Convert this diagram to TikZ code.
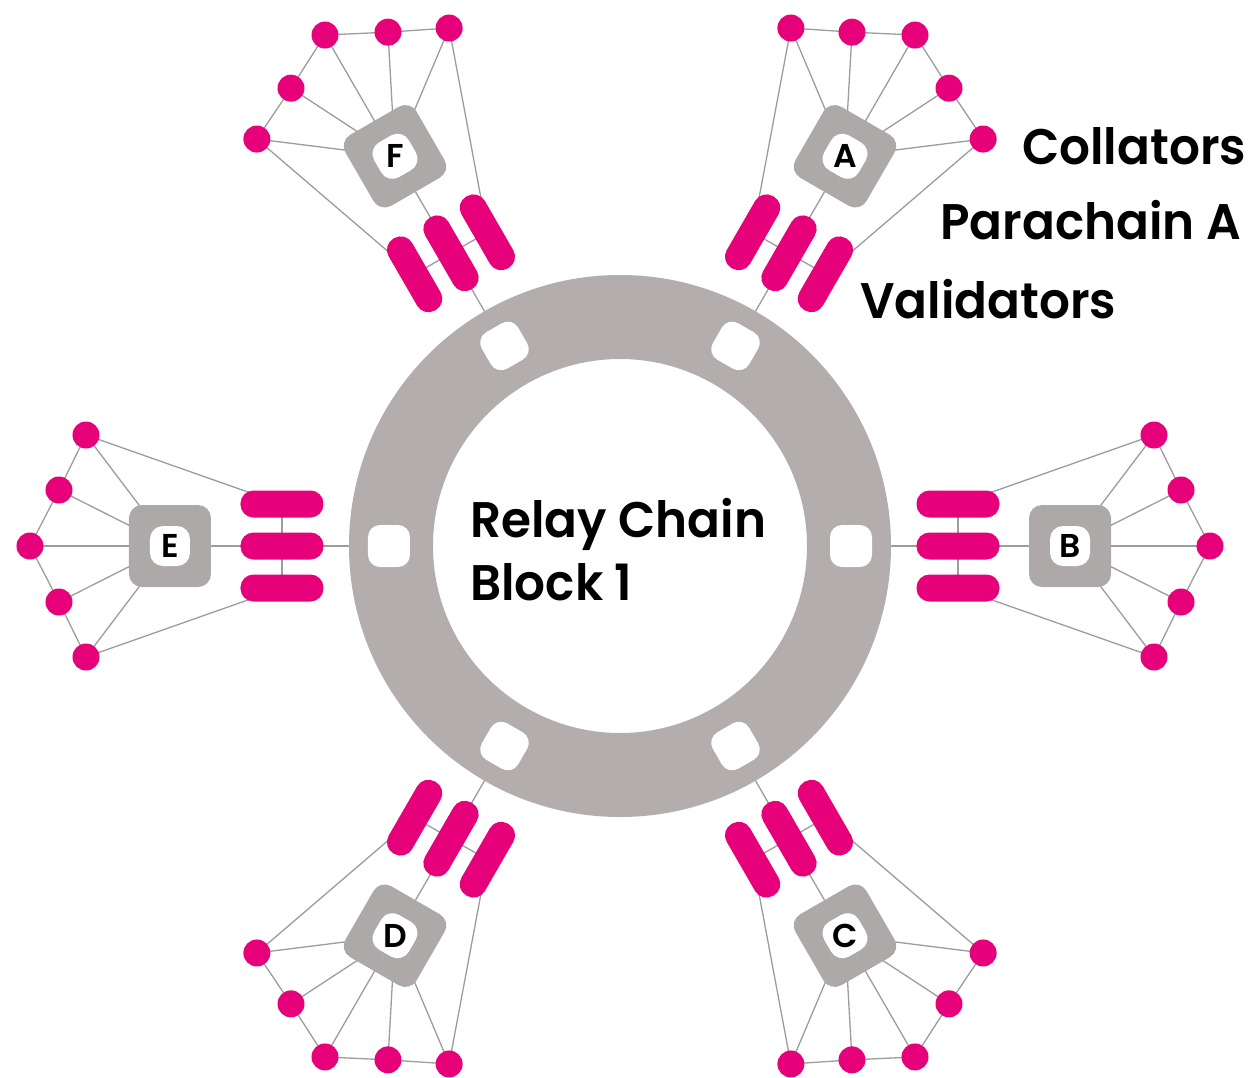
\documentclass[tikz,border=0pt]{standalone}
\usepackage{fontspec}
\setmainfont{Poppins}
\newfontfamily\txtfont{Poppins}[UprightFont={* SemiBold}, FakeStretch=0.97]
\newfontfamily\letfont{Poppins}[UprightFont={* SemiBold}]
\pgfdeclarelayer{bg}
\pgfsetlayers{bg,main}
\definecolor{pink}{HTML}{E6007A}
\definecolor{ringgray}{HTML}{B3ADAD}
\definecolor{boxgray}{HTML}{ADA9A9}
\definecolor{linegray}{HTML}{9C9C9C}
\tikzset{
  pill/.style={rectangle, rounded corners=13pt, minimum width=83pt, minimum height=27pt, inner sep=0pt, fill=pink, transform shape},
  chainbox/.style={rectangle, rounded corners=13pt, minimum size=82pt, inner sep=0pt, fill=boxgray, transform shape},
  hole/.style={rectangle, rounded corners=13pt, minimum size=40pt, inner sep=0pt, fill=white, transform shape},
  slot/.style={rectangle, rounded corners=12pt, minimum size=42pt, inner sep=0pt, fill=white},
  dot/.style={circle, minimum size=27pt, inner sep=0pt, fill=pink},
  letter/.style={font=\letfont\fontsize{33}{33}\selectfont, inner sep=0pt},
  txt/.style={font=\txtfont\fontsize{50}{63}\selectfont, inner sep=0pt},
  link/.style={draw=linegray, line width=1.3pt}
}
\newcommand\chainarm[3]{%
  \begin{scope}[rotate=#1]
    \node[pill] (#3p1) at (338,42) {};
    \node[pill] (#3p2) at (338,0) {};
    \node[pill] (#3p3) at (338,-42) {};
    \node[chainbox] (#3box) at (450,0) {};
    \node[hole] (#3hole) at (450,0) {};
    \node[letter] (#3let) at (450,0) {#2};
    \node[dot] (#3d1) at (534,111) {};
    \node[dot] (#3d2) at (561,56) {};
    \node[dot] (#3d3) at (590,0) {};
    \node[dot] (#3d4) at (561,-56) {};
    \node[dot] (#3d5) at (534,-111) {};
    \coordinate (#3r) at (262,0);
    \begin{pgfonlayer}{bg}
      \draw[link] (#3r) -- (#3p2.center);
      \draw[link] (#3p1.center) -- (#3p3.center);
      \draw[link] (#3p2.center) -- (#3box.center);
      \draw[link] (#3p1.center) -- (#3d1.center);
      \draw[link] (#3p3.center) -- (#3d5.center);
      \draw[link] (#3d1.center) -- (#3d2.center) -- (#3d3.center) -- (#3d4.center) -- (#3d5.center);
      \foreach \i in {1,...,5} {\draw[link] (#3box.center) -- (#3d\i.center);}
    \end{pgfonlayer}
  \end{scope}}
\begin{document}
\begin{tikzpicture}[x=1pt,y=1pt]
  \useasboundingbox (-620,-531) rectangle (630,546);
  \fill[ringgray, even odd rule] (0,0) circle[radius=271] (0,0) circle[radius=187];
  \foreach \a in {0,60,...,300} {\node[slot, rotate=\a] (slot\a) at (\a:231) {};}
  \chainarm{0}{B}{B}
  \chainarm{60}{A}{A}
  \chainarm{120}{F}{F}
  \chainarm{180}{E}{E}
  \chainarm{240}{D}{D}
  \chainarm{300}{C}{C}
  \node[txt, anchor=west, align=left] (relay) at (-150,-4) {Relay Chain\\Block 1};
  \node[txt, anchor=base west] (coll) at (402,381) {Collators};
  \node[txt, anchor=base west] (para) at (320,306) {Parachain A};
  \node[txt, anchor=base west] (vali) at (240,228) {Validators};
\end{tikzpicture}
\end{document}
